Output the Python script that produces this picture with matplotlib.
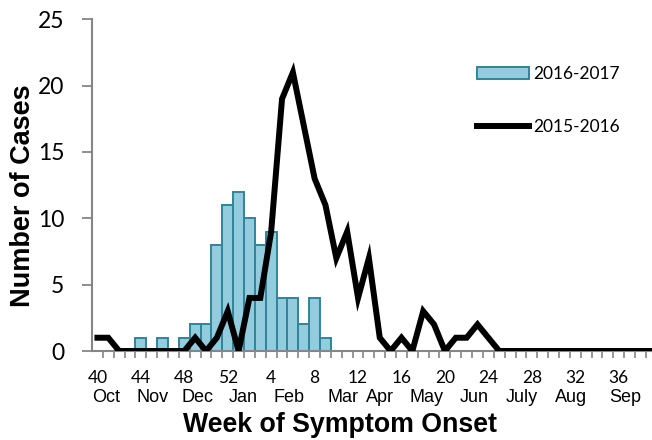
import numpy as np
import matplotlib
matplotlib.use('Agg')
import matplotlib.pyplot as plt
from matplotlib.patches import Patch
from matplotlib.lines import Line2D

# Weeks of the season, MMWR week 40 through week 39
weeks = list(range(40, 53)) + list(range(1, 40))

# 2016-2017 season (bars), cases by week
cases_1617 = {44: 1, 46: 1, 48: 1, 49: 2, 50: 2, 51: 8, 52: 11,
              1: 12, 2: 10, 3: 8, 4: 9, 5: 4, 6: 4, 7: 2, 8: 4, 9: 1}

# 2015-2016 season (line), cases by week (missing weeks = 0)
cases_1516 = {40: 1, 41: 1, 49: 1, 51: 1, 52: 3, 2: 4, 3: 4, 4: 9,
              5: 19, 6: 21, 7: 17, 8: 13, 9: 11, 10: 7, 11: 9, 12: 4,
              13: 7, 14: 1, 16: 1, 18: 3, 19: 2, 21: 1, 22: 1, 23: 2, 24: 1}

months = ['Oct', 'Nov', 'Dec', 'Jan', 'Feb', 'Mar', 'Apr', 'May',
          'Jun', 'July', 'Aug', 'Sep']
month_pos = [0.8, 5.1, 9.2, 13.4, 17.6, 22.6, 26.0, 30.3, 34.7, 39.1, 43.6, 48.6]

bar_vals = np.array([cases_1617.get(w, 0) for w in weeks])
line_vals = np.array([cases_1516.get(w, 0) for w in weeks])
x = np.arange(len(weeks))

GRAY = '#868686'
BAR_FILL = '#93cddd'
BAR_EDGE = '#31849b'

fig = plt.figure(figsize=(6.52, 4.4), dpi=100)
ax_h = 331.7
ax = fig.add_axes([92 / 652, 89 / 440, 560 / 652, ax_h / 440])

nz = bar_vals > 0
ax.bar(x[nz], bar_vals[nz], width=1.0, color=BAR_FILL, edgecolor=BAR_EDGE,
       linewidth=1.4, zorder=2)
ax.plot(x, line_vals, color='black', linewidth=4.3, solid_joinstyle='miter',
        zorder=3)

ax.set_xlim(-0.5, 51.07)
ax.set_ylim(0, 25)

for side in ['top', 'right']:
    ax.spines[side].set_visible(False)
for side in ['left', 'bottom']:
    ax.spines[side].set_color(GRAY)
    ax.spines[side].set_linewidth(1.5)

# y axis
ax.set_yticks(np.arange(0, 26, 5))
ax.tick_params(axis='y', which='major', direction='out', length=7, width=1.3,
               color=GRAY, pad=13, labelsize=16.5)
for lab in ax.get_yticklabels():
    lab.set_family('Lato')

# x axis: minor ticks at week boundaries, labels every 4 weeks
ax.set_xticks(np.arange(0.5, 51, 1.0), minor=True)
ax.set_xticks(x[::4])
ax.set_xticklabels([str(weeks[i]) for i in x[::4]])
ax.tick_params(axis='x', which='minor', direction='out', length=5, width=1.2,
               color=GRAY)
ax.tick_params(axis='x', which='major', length=0, pad=14, labelsize=12.5)
for lab in ax.get_xticklabels():
    lab.set_family('Lato')

for name, pos in zip(months, month_pos):
    ax.annotate(name, xy=(pos, 0), xycoords=('data', 'axes fraction'),
                xytext=(0, -33.5), textcoords='offset points',
                ha='center', va='center', fontsize=13,
                family='Liberation Sans')

ax.set_xlabel('Week of Symptom Onset', fontsize=19.3, fontweight='bold',
              family='Liberation Sans', va='center')
ax.xaxis.set_label_coords(0.443, -74 / ax_h)
ax.set_ylabel('Number of Cases', fontsize=19.5, fontweight='bold',
              family='Liberation Sans', va='center')
ax.yaxis.set_label_coords(-68.5 / 560, 0.469)

handles = [Patch(facecolor=BAR_FILL, edgecolor=BAR_EDGE, linewidth=1.4),
           Line2D([0], [0], color='black', linewidth=4.3)]
ax.legend(handles, ['2016-2017', '2015-2016'], loc='upper left',
          bbox_to_anchor=(0.66, 0.905), frameon=False,
          prop={'family': 'Lato', 'size': 12.5}, handlelength=3.0,
          handleheight=0.7, handletextpad=0.2, labelspacing=2.1)

fig.savefig('out.png', dpi=100)
